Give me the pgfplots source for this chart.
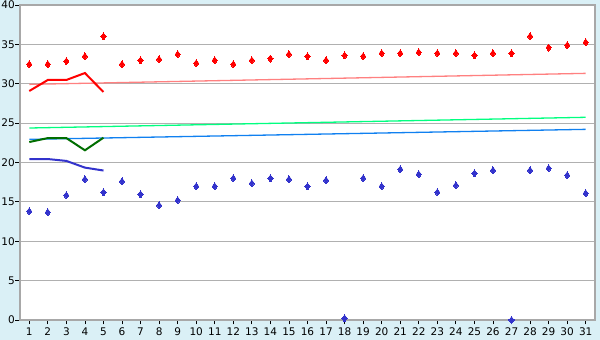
\documentclass[border=0pt]{standalone}
\usepackage{fontspec}
\setmainfont{DejaVu Sans}
\usepackage{pgfplots}
\usepackage{pgfplotstable}
\pgfplotsset{compat=1.18}
\definecolor{bgc}{RGB}{218,240,246}
\definecolor{gridc}{RGB}{176,176,176}
\definecolor{axisc}{RGB}{168,168,168}
\definecolor{trendred}{RGB}{255,128,128}
\definecolor{trendgreen}{RGB}{0,255,128}
\definecolor{trendblue}{RGB}{16,128,240}
\definecolor{dkgreen}{RGB}{0,110,0}
\definecolor{dkblue}{RGB}{51,51,204}

\pgfplotstableread{
day hi
1 32.47
2 32.47
3 32.85
4 33.48
5 36.02
6 32.47
7 32.97
8 33.10
9 33.74
10 32.60
11 32.97
12 32.47
13 32.97
14 33.20
15 33.74
16 33.48
17 32.97
18 33.60
19 33.48
20 33.86
21 33.86
22 33.99
23 33.86
24 33.86
25 33.60
26 33.86
27 33.86
28 36.02
29 34.60
30 34.88
31 35.26
}\hitab

\pgfplotstableread{
day lo
1 13.80
2 13.67
3 15.83
4 17.86
5 16.21
6 17.60
7 15.96
8 14.56
9 15.20
10 16.97
11 16.97
12 17.99
13 17.35
14 17.99
15 17.86
16 16.97
17 17.73
18 0.21
19 17.99
20 16.97
21 19.13
22 18.50
23 16.21
24 17.10
25 18.62
26 19.00
27 0.00
28 19.00
29 19.26
30 18.37
31 16.08
}\lotab

\begin{document}
\begin{tikzpicture}[x=1pt,y=1pt]
\fill[bgc] (0,0) rectangle (600,340);
\useasboundingbox (0,0) rectangle (600,340);
\begin{axis}[
  at={(20pt,20pt)}, anchor=south west,
  scale only axis, width=575pt, height=315pt,
  xmin=0.5, xmax=31.5, ymin=0, ymax=40,
  xtick={1,...,31}, ytick={0,5,...,40},
  axis background/.style={fill=white},
  axis line style={draw=axisc, line width=1.2pt},
  ymajorgrids, grid style={draw=gridc, line width=1pt},
  tick align=outside, tick pos=left,
  major tick length=4.5pt,
  tick style={black, line width=0.8pt},
  ticklabel style={font=\fontsize{10.5}{12}\selectfont},
  xticklabel style={yshift=0pt},
  yticklabel style={inner xsep=0.5pt},
  /pgf/number format/assume math mode=true,
  clip=false,
]
% trend lines
\addplot[trendred, line width=1.3pt] coordinates {(1,29.92) (31,31.32)};
\addplot[trendgreen, line width=1.3pt] coordinates {(1,24.38) (31,25.74)};
\addplot[trendblue, line width=1.3pt] coordinates {(1,22.94) (31,24.21)};
% short lines
\addplot[red, line width=2pt] coordinates {(1,29.08) (2,30.48) (3,30.48) (4,31.36) (5,28.95)};
\addplot[dkgreen, line width=2pt] coordinates {(1,22.6) (2,23.1) (3,23.1) (4,21.55) (5,23.15)};
\addplot[dkblue, line width=2pt] coordinates {(1,20.44) (2,20.44) (3,20.2) (4,19.35) (5,18.98)};
% scatter points
\addplot[only marks, mark=diamond*, mark size=3.5pt, mark options={fill=red, draw=red, line width=0pt}] table[x=day, y=hi] {\hitab};
\addplot[only marks, mark=diamond*, mark size=3.5pt, mark options={fill=dkblue, draw=dkblue, line width=0pt}] table[x=day, y=lo] {\lotab};
\end{axis}
\end{tikzpicture}
\end{document}
